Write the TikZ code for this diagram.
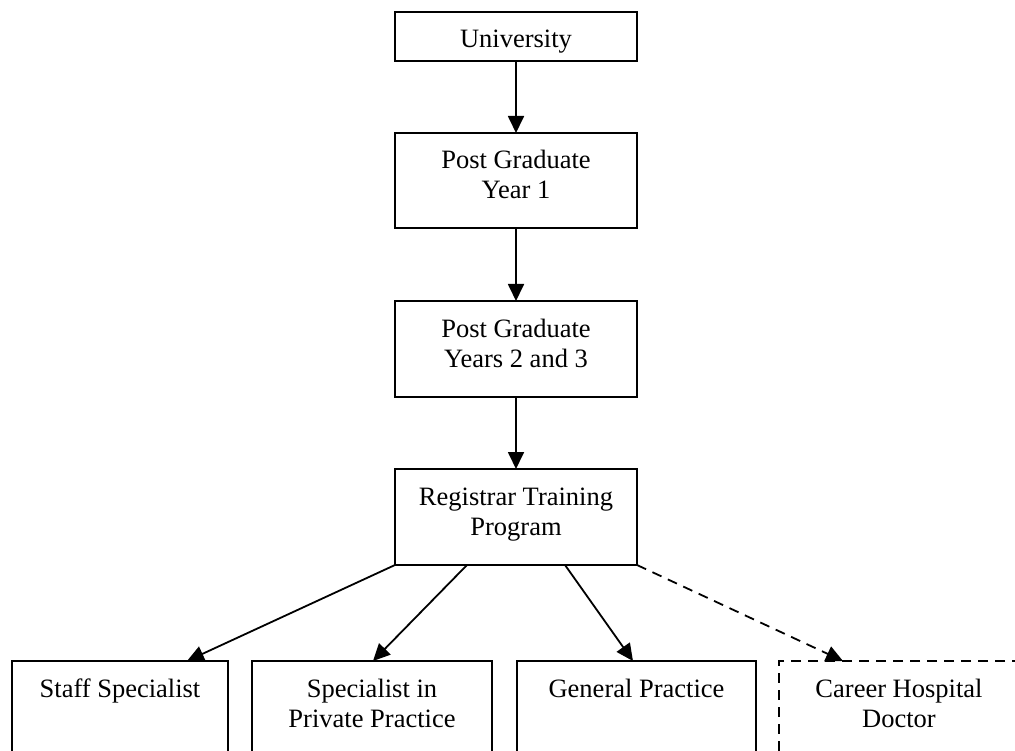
\documentclass[tikz,border=0pt]{standalone}
\usepackage{fontspec}
\setmainfont{Liberation Serif}
\usetikzlibrary{arrows.meta,calc}
\begin{document}
\begin{tikzpicture}[x=1pt,y=-1pt,
  box/.style={draw, line width=1.8pt, inner sep=0pt, outer sep=0pt, anchor=north west},
  txt/.style={font=\fontsize{26.5}{30}\selectfont, align=center, inner sep=0pt, anchor=base},
  arr/.style={line width=1.8pt, -{Triangle[length=17pt,width=16pt]}},
  dsh/.style={dash pattern=on 10pt off 7pt}]
\useasboundingbox (0,0) rectangle (1015,751);
\clip (0,0) rectangle (1015,751);
\fill[white] (0,0) rectangle (1015,751);
% boxes
\node[box, minimum width=242pt, minimum height=49pt] (uni) at (395,12) {};
\node[box, minimum width=242pt, minimum height=95pt] (pg1) at (395,133) {};
\node[box, minimum width=242pt, minimum height=96pt] (pg2) at (395,301) {};
\node[box, minimum width=242pt, minimum height=96pt] (reg) at (395,469) {};
\node[box, minimum width=216pt, minimum height=120pt] (staff) at (12,661) {};
\node[box, minimum width=240pt, minimum height=120pt] (spp) at (252,661) {};
\node[box, minimum width=239pt, minimum height=120pt] (gp) at (517,661) {};
\node[box, dsh, minimum width=240pt, minimum height=120pt] (chd) at (779,661) {};
% texts (base anchor = baseline of last line)
\node[txt] (unit) at ($(uni.north)+(0,36)$) {University};
\node[txt] (pg1t) at ($(pg1.north)+(0,66)$) {Post Graduate\\Year 1};
\node[txt] (pg2t) at ($(pg2.north)+(0,66)$) {Post Graduate\\Years 2 and 3};
\node[txt] (regt) at ($(reg.north)+(0,66)$) {Registrar Training\\Program};
\node[txt] (stafft) at ($(staff.north)+(0,36)$) {Staff Specialist};
\node[txt] (sppt) at ($(spp.north)+(0,66)$) {Specialist in\\Private Practice};
\node[txt] (gpt) at ($(gp.north)+(0,36)$) {General Practice};
\node[txt] (chdt) at ($(chd.north)+(0,66)$) {Career Hospital\\Doctor};
% connectors
\draw[arr] (uni) -- (pg1);
\draw[arr] (pg1) -- (pg2);
\draw[arr] (pg2) -- (reg);
\draw[arr] (reg.south west) -- ($(staff.north west)+(175,0)$);
\draw[arr] ($(reg.south west)+(72,0)$) -- ($(spp.north west)+(121,0)$);
\draw[arr] ($(reg.south west)+(170,0)$) -- ($(gp.north west)+(116,0)$);
\draw[arr, dsh] (reg.south east) -- ($(chd.north west)+(64,0)$);
\end{tikzpicture}
\end{document}
